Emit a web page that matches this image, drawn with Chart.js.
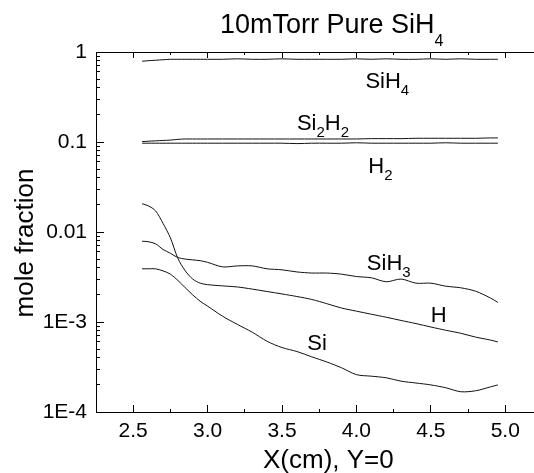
<!DOCTYPE html>
<html>
<head>
<meta charset="utf-8">
<script src="https://cdn.jsdelivr.net/npm/chart.js@4/dist/chart.umd.min.js"></script>
<style>
    body { margin: 0; background: #fff; overflow: hidden; }
    canvas { display: block; }
</style>
</head>
<body>
<canvas id="moleChart" width="534" height="473"></canvas>
<script>
// Chart data
const xPos = [2.56, 2.6, 2.65, 2.7, 2.75, 2.8, 2.85, 2.9, 2.95, 3.0,
    3.1, 3.2, 3.3, 3.4, 3.5, 3.6, 3.7, 3.8, 3.9, 4.0,
    4.1, 4.2, 4.3, 4.4, 4.5, 4.6, 4.7, 4.8, 4.9, 4.95];

const siH4 = [0.79, 0.80, 0.81, 0.82, 0.83, 0.83, 0.83, 0.83, 0.83, 0.83,
    0.83, 0.84, 0.83, 0.83, 0.84, 0.83, 0.83, 0.83, 0.83, 0.84,
    0.83, 0.84, 0.83, 0.83, 0.84, 0.83, 0.84, 0.83, 0.83, 0.83];
const si2H2 = [0.101, 0.102, 0.103, 0.104, 0.105, 0.107, 0.108, 0.108, 0.108, 0.108,
    0.108, 0.108, 0.108, 0.108, 0.108, 0.108, 0.108, 0.108, 0.108, 0.108,
    0.109, 0.109, 0.109, 0.110, 0.110, 0.110, 0.110, 0.110, 0.111, 0.111];
const h2 = [0.097, 0.097, 0.097, 0.097, 0.097, 0.097, 0.097, 0.097, 0.097, 0.097,
    0.097, 0.097, 0.097, 0.097, 0.097, 0.096, 0.097, 0.097, 0.097, 0.098,
    0.097, 0.097, 0.097, 0.097, 0.097, 0.098, 0.097, 0.097, 0.097, 0.097];
const siH3 = [0.0079, 0.0078, 0.0074, 0.0064, 0.0058, 0.0052, 0.0050, 0.0049, 0.0048, 0.0046,
    0.0041, 0.0042, 0.0042, 0.0039, 0.0038, 0.0036, 0.0035, 0.0035, 0.0034, 0.0032,
    0.0031, 0.0028, 0.0030, 0.0027, 0.0027, 0.0025, 0.0024, 0.0022, 0.00185, 0.00165];
const hAtom = [0.0206, 0.0196, 0.0172, 0.0125, 0.0086, 0.0051, 0.0037, 0.0030, 0.0027, 0.0026,
    0.00252, 0.00245, 0.00232, 0.00218, 0.00205, 0.00192, 0.00178, 0.00160, 0.00143, 0.00132,
    0.00122, 0.00113, 0.00104, 0.00096, 0.00088, 0.00081, 0.00075, 0.00068, 0.00063, 0.00060];
const siAtom = [0.0039, 0.0039, 0.0039, 0.0037, 0.0034, 0.0029, 0.0024, 0.0020, 0.0017, 0.0015,
    0.00116, 0.00094, 0.00077, 0.00061, 0.00052, 0.00047, 0.00041, 0.00036, 0.00031, 0.00026,
    0.00025, 0.00024, 0.00022, 0.00021, 0.00020, 0.000186, 0.000168, 0.000172, 0.00019, 0.00020];

// Axis ticks
const xMajorTicks = [2.5, 3.0, 3.5, 4.0, 4.5, 5.0];
const xMinorTicks = [2.75, 3.25, 3.75, 4.25, 4.75];
const yMajorTicks = [1e-4, 1e-3, 1e-2, 1e-1, 1];
const yTickLabels = ["1E-4", "1E-3", "0.01", "0.1", "1"];
const yMinorTicks = [
    2e-4, 3e-4, 4e-4, 5e-4, 6e-4, 7e-4, 8e-4, 9e-4,
    2e-3, 3e-3, 4e-3, 5e-3, 6e-3, 7e-3, 8e-3, 9e-3,
    0.02, 0.03, 0.04, 0.05, 0.06, 0.07, 0.08, 0.09,
    0.2, 0.3, 0.4, 0.5, 0.6, 0.7, 0.8, 0.9,
];

// Curve labels, anchored in data units (text parts: [text, isSubscript])
const curveLabels = [
    { parts: [["SiH", false], ["4", true]], x: 4.06, y: 0.40 },
    { parts: [["Si", false], ["2", true], ["H", false], ["2", true]], x: 3.60, y: 0.137 },
    { parts: [["H", false], ["2", true]], x: 4.08, y: 0.0453 },
    { parts: [["SiH", false], ["3", true]], x: 4.07, y: 0.0038 },
    { parts: [["H", false]], x: 4.50, y: 0.00099 },
    { parts: [["Si", false]], x: 3.67, y: 0.00049 },
];

const FONT = "'Liberation Sans', Arial, Helvetica, sans-serif";
Chart.defaults.font.family = FONT;
Chart.defaults.color = "#000";

const X_MIN = 2.25;
const X_MAX = 5.193;

function pairs(ys) {
    return xPos.map((x, i) => ({ x: x, y: ys[i] }));
}

// draws a string made of normal / subscript parts
function drawRich(ctx, parts, x, y, size, subSize, subDrop) {
    let cx = x;
    parts.forEach(([txt, sub]) => {
        ctx.font = (sub ? subSize : size) + "px " + FONT;
        ctx.fillText(txt, cx, sub ? y + subDrop : y);
        cx += ctx.measureText(txt).width;
    });
}

// inward tick marks: negative tickLength, nothing on the chart area
function inwardGrid(len) {
    return {
        display: true,
        drawOnChartArea: false,
        drawTicks: true,
        tickLength: -len,
        tickColor: "#000",
        tickWidth: 1,
        color: "#000",
        lineWidth: 1,
    };
}

// extra zero-size axis that only carries tick marks
function tickAxis(type, position, min, max, values, len) {
    return {
        type: type,
        position: position,
        weight: 0,
        min: min,
        max: max,
        afterBuildTicks: (scale) => {
            scale.ticks = values.map((v) => ({ value: v }));
        },
        afterFit: (scale) => {
            if (position === "left") scale.width = 0;
            else scale.height = 0;
        },
        ticks: { display: false, autoSkip: false },
        grid: inwardGrid(len),
        border: { display: false },
    };
}

const textPlugin = {
    id: "texts",
    afterDraw(chart) {
        const ctx = chart.ctx;
        const xs = chart.scales.x;
        const ys = chart.scales.y;
        ctx.save();
        ctx.fillStyle = "#000";
        ctx.textBaseline = "alphabetic";
        ctx.textAlign = "left";
        // title
        drawRich(ctx, [["10mTorr Pure SiH", false], ["4", true]], 220, 33, 27, 16, 13);
        // x axis title
        ctx.font = "26px " + FONT;
        ctx.fillText("X(cm), Y=0", 263, 468);
        // y axis title
        ctx.save();
        ctx.translate(33, 243);
        ctx.rotate(-Math.PI / 2);
        ctx.textAlign = "center";
        ctx.fillText("mole fraction", 0, 0);
        ctx.restore();
        // curve labels
        curveLabels.forEach((lab) => {
            drawRich(ctx, lab.parts, xs.getPixelForValue(lab.x), ys.getPixelForValue(lab.y), 22, 15, 7);
        });
        ctx.restore();
    },
};

function lineSet(label, ys) {
    return {
        label: label,
        data: pairs(ys),
        borderColor: "#111",
        borderWidth: 1,
        pointRadius: 0,
        tension: 0.3,
        fill: false,
    };
}

new Chart(document.getElementById("moleChart").getContext("2d"), {
    type: "line",
    data: {
        datasets: [
            lineSet("SiH4", siH4),
            lineSet("Si2H2", si2H2),
            lineSet("H2", h2),
            lineSet("SiH3", siH3),
            lineSet("H", hAtom),
            lineSet("Si", siAtom),
        ],
    },
    options: {
        responsive: false,
        animation: false,
        events: [],
        layout: {
            padding: { top: 52, left: 0, right: 0, bottom: 0 },
        },
        plugins: {
            legend: { display: false },
            tooltip: { enabled: false },
            title: { display: false },
        },
        scales: {
            x: {
                type: "linear",
                position: "bottom",
                weight: 1,
                min: X_MIN,
                max: X_MAX,
                afterBuildTicks: (scale) => {
                    scale.ticks = xMajorTicks.map((v) => ({ value: v }));
                },
                afterFit: (scale) => {
                    scale.height = 61;
                },
                ticks: {
                    font: { size: 21 },
                    padding: 14,
                    maxRotation: 0,
                    autoSkip: false,
                    callback: (v) => Number(v).toFixed(1),
                },
                grid: inwardGrid(7),
                border: { display: true, color: "#000", width: 1 },
            },
            xMinor: tickAxis("linear", "bottom", X_MIN, X_MAX, xMinorTicks, 3),
            xTop: {
                type: "linear",
                position: "top",
                weight: 1,
                min: X_MIN,
                max: X_MAX,
                afterBuildTicks: (scale) => {
                    scale.ticks = xMajorTicks.map((v) => ({ value: v }));
                },
                afterFit: (scale) => {
                    scale.height = 0;
                },
                ticks: { display: false, autoSkip: false },
                grid: inwardGrid(6),
                border: { display: true, color: "#000", width: 1 },
            },
            xTopMinor: tickAxis("linear", "top", X_MIN, X_MAX, xMinorTicks, 3),
            y: {
                type: "logarithmic",
                position: "left",
                weight: 1,
                min: 1e-4,
                max: 1,
                afterBuildTicks: (scale) => {
                    scale.ticks = yMajorTicks.map((v) => ({ value: v }));
                },
                afterFit: (scale) => {
                    scale.width = 96;
                },
                ticks: {
                    font: { size: 21 },
                    padding: 17,
                    autoSkip: false,
                    callback: (v) => yTickLabels[yMajorTicks.findIndex((t) => Math.abs(Math.log10(t) - Math.log10(v)) < 1e-6)],
                },
                grid: inwardGrid(8),
                border: { display: true, color: "#000", width: 1 },
            },
            yMinor: tickAxis("logarithmic", "left", 1e-4, 1, yMinorTicks, 4),
        },
    },
    plugins: [textPlugin],
});
</script>
</body>
</html>
